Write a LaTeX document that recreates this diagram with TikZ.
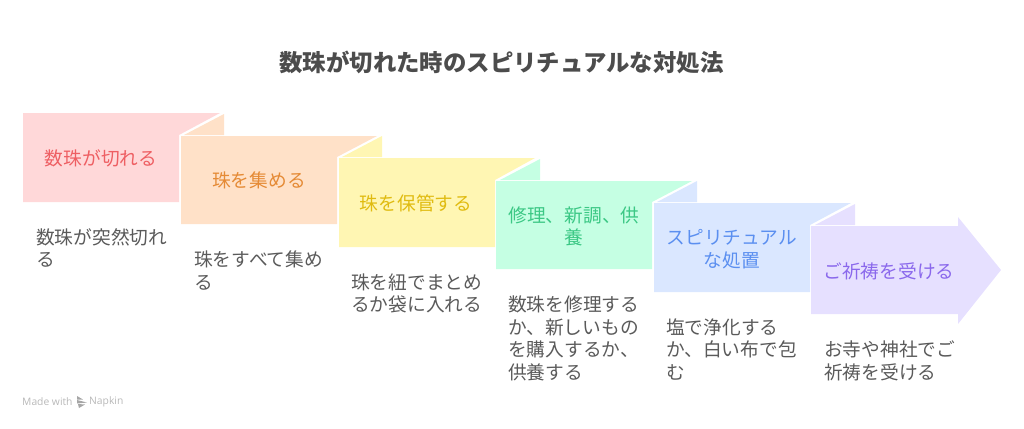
\documentclass[tikz,border=0pt]{standalone}
\usepackage{fontspec}
\setmainfont{Noto Sans CJK JP}
\newfontfamily\latinf{Open Sans}
\definecolor{c1}{HTML}{FFD8D9}\definecolor{t1}{HTML}{EE5F63}
\definecolor{c2}{HTML}{FFE1C8}\definecolor{t2}{HTML}{E58A35}
\definecolor{c3}{HTML}{FFF6B3}\definecolor{t3}{HTML}{E0BB10}
\definecolor{c4}{HTML}{C5FFE3}\definecolor{t4}{HTML}{3CC885}
\definecolor{c5}{HTML}{DAE7FF}\definecolor{t5}{HTML}{5B8FF0}
\definecolor{c6}{HTML}{E6E0FF}\definecolor{t6}{HTML}{8A68EC}
\definecolor{ink}{HTML}{5A5A5A}
\definecolor{titleink}{HTML}{4C4C4C}
\tikzset{
  titletext/.style={font=\fontsize{23.4}{26}\selectfont\bfseries,text=titleink,anchor=center},
  lbl/.style={font=\fontsize{18.7}{22.4}\selectfont,align=center,anchor=center,inner sep=0pt},
  desc/.style={font=\fontsize{18.7}{22.4}\selectfont,text=ink,align=left,anchor=north west,inner sep=0pt},
  wmark/.style={font=\latinf\fontsize{10.3}{12}\selectfont,text=black!28,inner sep=0pt}
}
\begin{document}
\begin{tikzpicture}[x=1pt,y=-1pt]
\useasboundingbox (0,0) rectangle (1024,428);
\node[titletext] (ttl) at (501.5,62) {数珠が切れた時のスピリチュアルな対処法};
% fold triangles
\fill[c2] (224,114) -- (224,135) -- (184,135) -- cycle;
\fill[c3] (382,136) -- (382,157) -- (342,157) -- cycle;
\fill[c4] (540,159) -- (540,180) -- (500,180) -- cycle;
\fill[c5] (697,181) -- (697,202) -- (657,202) -- cycle;
\fill[c6] (855,204) -- (855,225) -- (815,225) -- cycle;
% panels
\fill[c1] (23,113) -- (220,113) -- (179,135) -- (179,202) -- (23,202) -- cycle;
\fill[c2] (181,136) -- (377,136) -- (337,157) -- (337,224) -- (181,224) -- cycle;
\fill[c3] (339,158) -- (535,158) -- (495,180) -- (495,247) -- (339,247) -- cycle;
\fill[c4] (496,181) -- (692,181) -- (652,202) -- (652,269) -- (496,269) -- cycle;
\fill[c5] (654,203) -- (851,203) -- (810,225) -- (810,292) -- (654,292) -- cycle;
\fill[c6] (811,226) -- (958,226) -- (958,217) -- (1001,270) -- (958,324) -- (958,314) -- (811,314) -- cycle;
% labels
\node[lbl,text=t1] (a) at (101,158.5) {数珠が切れる};
\node[lbl,text=t2] (b) at (259,180.5) {珠を集める};
\node[lbl,text=t3] (c) at (416,203.5) {珠を保管する};
\node[lbl,text=t4] (d) at (574,226.5) {修理、新調、供\\養};
\node[lbl,text=t5] (e) at (732,249) {スピリチュアル\\な処置};
\node[lbl,text=t6] (f) at (889,271) {ご祈祷を受ける};
% descriptions
\node[desc] (da) at (36,228) {数珠が突然切れ\\る};
\node[desc] (db) at (194,251) {珠をすべて集め\\る};
\node[desc] (dc) at (351,273.5) {珠を紐でまとめ\\るか袋に入れる};
\node[desc] (dd) at (508,296) {数珠を修理する\\か、新しいもの\\を購入するか、\\供養する};
\node[desc] (de) at (666,318.5) {塩で浄化する\\か、白い布で包\\む};
\node[desc] (df) at (824,341) {お寺や神社でご\\祈祷を受ける};
% watermark
\node[wmark,anchor=west] (m1) at (22,402) {Made with};
\node[wmark,anchor=west] (m2) at (89,402) {Napkin};
\fill[black!35] (77,396) -- (83,399.5) -- (77,399.5) -- cycle
  (77,400) -- (87,402.5) -- (77,403.5) -- cycle
  (78,404) -- (85,404.5) -- (79,408) -- cycle;
\end{tikzpicture}
\end{document}
